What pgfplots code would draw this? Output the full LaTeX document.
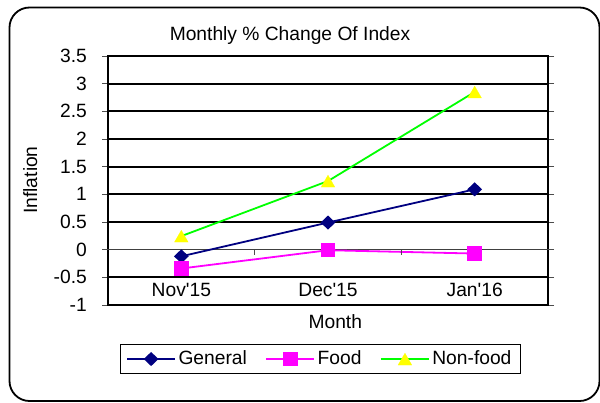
\documentclass[border=0pt]{standalone}
\usepackage{pgfplots}
\pgfplotsset{compat=1.18}
\usepackage{fontspec}
\setmainfont{Liberation Sans}
\definecolor{cnavy}{RGB}{0,0,128}
\definecolor{cmag}{RGB}{255,0,255}
\definecolor{cgreen}{RGB}{0,255,0}
\definecolor{cyel}{RGB}{255,255,0}
\begin{document}
\fontsize{19.3}{23}\selectfont
\begin{tikzpicture}[x=1bp,y=1bp]
\useasboundingbox (0,0) rectangle (600,402);
\draw[line width=1.8bp, rounded corners=20bp] (9.5,1) rectangle (599.5,394.5);
\node[anchor=base, inner sep=0pt] at (290,361.3) {Monthly \% Change Of Index};
\node[anchor=base, inner sep=0pt] at (335.3,73.7) {Month};
\node[anchor=base, rotate=90, inner sep=0pt] at (37,222) {Inflation};
\begin{axis}[
  at={(108bp,97bp)}, anchor=south west,
  width=440bp, height=249bp, scale only axis,
  xmin=-0.5, xmax=2.5, ymin=-1, ymax=3.5,
  xtick={0,1,2},
  xticklabels={Nov\textquotesingle15,Dec\textquotesingle15,Jan\textquotesingle16},
  x tick style={draw=none},
  xticklabel style={anchor=base, yshift=15bp, inner sep=0pt},
  ytick={-1,-0.5,0.5,1,1.5,2,2.5,3,3.5},
  extra y ticks={0},
  extra y tick style={grid style={black!75, line width=0.9bp}},
  ymajorgrids,
  grid style={black, line width=2.2bp},
  y tick style={black!70, line width=0.9bp},
  tick align=outside, major tick length=6bp,
  axis line style={black, line width=2.2bp},
  /pgf/number format/assume math mode=true,
  yticklabel style={inner sep=0pt, xshift=-15bp},
  legend style={at={(0.482,-0.217)}, anchor=center, legend columns=-1,
    draw=black, line width=0.9bp, inner xsep=6bp, inner ysep=4bp,
    /tikz/every even column/.append style={column sep=16bp},
    nodes={inner sep=2.5bp}},
  legend image code/.code={\draw[mark repeat=2, mark phase=2] plot coordinates {(0bp,0bp) (24bp,0bp) (48bp,0bp)};},
  clip=false,
]
\addplot[color=cnavy, line width=1.8bp, mark=diamond*, mark size=5.8bp,
  mark options={xscale=1.4, solid, fill=cnavy}]
  coordinates {(0,-0.12) (1,0.49) (2,1.09)};
\addlegendentry{General}
\addplot[color=cmag, line width=1.8bp, mark=square*, mark size=6.3bp,
  mark options={solid, fill=cmag}]
  coordinates {(0,-0.34) (1,-0.01) (2,-0.07)};
\addlegendentry{Food}
\addplot[color=cgreen, line width=1.8bp, mark=triangle*, mark size=8bp,
  mark options={solid, fill=cyel, draw=cyel, line width=0.1bp, yshift=-2bp}]
  coordinates {(0,0.245) (1,1.24) (2,2.85)};
\addlegendentry{Non-food}
\draw[black!70, line width=0.9bp] (axis cs:0.5,0) -- ([yshift=-5bp]axis cs:0.5,0);
\draw[black!70, line width=0.9bp] (axis cs:1.5,0) -- ([yshift=-5bp]axis cs:1.5,0);
\end{axis}
\end{tikzpicture}
\end{document}
